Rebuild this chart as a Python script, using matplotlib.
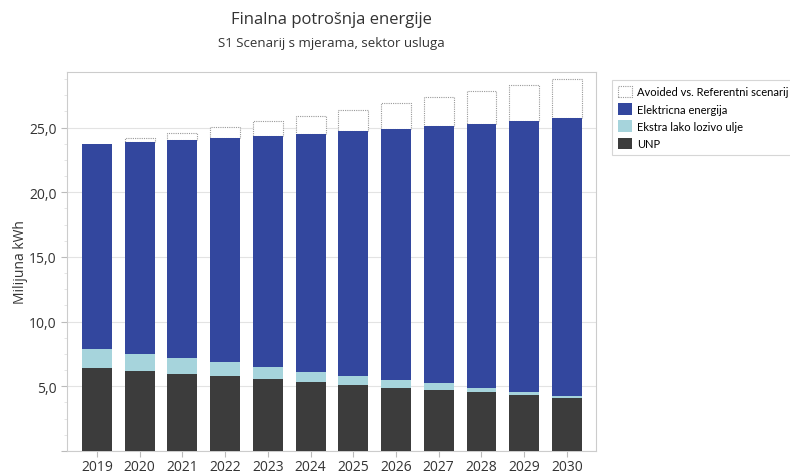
import numpy as np
import matplotlib
matplotlib.use("Agg")
import matplotlib.pyplot as plt
from matplotlib.ticker import FuncFormatter, MultipleLocator

plt.rcParams['font.family'] = ['Open Sans', 'DejaVu Sans']

years = ['2019', '2020', '2021', '2022', '2023', '2024',
         '2025', '2026', '2027', '2028', '2029', '2030']
# values read as stack tops, converted to segment heights below
unp = [6.44, 6.18, 5.98, 5.77, 5.56, 5.36, 5.13, 4.90, 4.74, 4.56, 4.35, 4.12]
ulje_top = [7.86, 7.52, 7.16, 6.85, 6.47, 6.13, 5.80, 5.49, 5.23, 4.87, 4.56, 4.23]
struja_top = [23.71, 23.87, 24.05, 24.20, 24.36, 24.53, 24.77, 24.90, 25.10, 25.31, 25.52, 25.72]
referentni_top = [23.71, 24.18, 24.61, 25.05, 25.52, 25.93, 26.39, 26.91, 27.34, 27.80, 28.30, 28.76]

unp = np.array(unp)
ulje = np.array(ulje_top) - unp
struja = np.array(struja_top) - np.array(ulje_top)
avoided = np.array(referentni_top) - np.array(struja_top)

fig = plt.figure(figsize=(7.9, 4.77), dpi=100)
ax = fig.add_axes([0.0848, 0.0524, 0.6696, 0.7946])

x = np.arange(len(years))
w = 0.7
ax.bar(x, unp, w, color='#3c3c3c', label='UNP', zorder=3)
ax.bar(x, ulje, w, bottom=unp, color='#a6d4dc', label='Ekstra lako lozivo ulje', zorder=3)
ax.bar(x, struja, w, bottom=unp + ulje, color='#33479e', label='Elektricna energija', zorder=3)
# no outline where there is nothing avoided (2019)
edges = ['#999999' if a > 0 else 'none' for a in avoided]
ax.bar(x, avoided, w, bottom=unp + ulje + struja, facecolor='white', edgecolor=edges,
       linestyle=(0, (1, 1)), linewidth=0.8, label='Avoided vs. Referentni scenarij', zorder=2)

ax.set_xlim(-0.7, 11.68)
ax.set_ylim(0, 29.3)
ax.set_xticks(x)
ax.set_xticklabels(years)
ax.yaxis.set_major_locator(MultipleLocator(5))
ax.yaxis.set_minor_locator(MultipleLocator(1.25))
ax.yaxis.set_major_formatter(FuncFormatter(lambda v, p: '' if v == 0 else f'{v:.1f}'.replace('.', ',')))
ax.tick_params(axis='both', colors='#bbbbbb', labelcolor='#333333', labelsize=10, length=4)
ax.tick_params(axis='x', pad=1.5)
ax.tick_params(axis='y', which='minor', colors='#e0e0e0', length=2.5)
ax.grid(axis='y', color='#e3e3e3', linewidth=0.8, zorder=0)
for s in ax.spines.values():
    s.set_color('#cccccc')
ax.set_ylabel('Milijuna kWh', fontsize=10, color='#333333', labelpad=1)

fig.text(0.42, 0.958, 'Finalna potrošnja energije', ha='center', va='center', fontsize=12, color='#333333')
fig.text(0.42, 0.909, 'S1 Scenarij s mjerama, sektor usluga', ha='center', va='center', fontsize=9.5, color='#333333')

handles, labels = ax.get_legend_handles_labels()
leg = ax.legend(handles[::-1], labels[::-1], loc='upper left', bbox_to_anchor=(1.03, 0.98),
                prop={'family': ['Lato', 'DejaVu Sans'], 'size': 8},
                frameon=True, fancybox=False, edgecolor='#cccccc',
                handlelength=1.25, handleheight=1.25, handletextpad=0.5, labelspacing=0.5,
                borderpad=0.55, borderaxespad=0)
leg.get_frame().set_linewidth(0.8)
leg.legend_handles[0].set_edgecolor('#999999')

fig.savefig('out.png', dpi=100)
